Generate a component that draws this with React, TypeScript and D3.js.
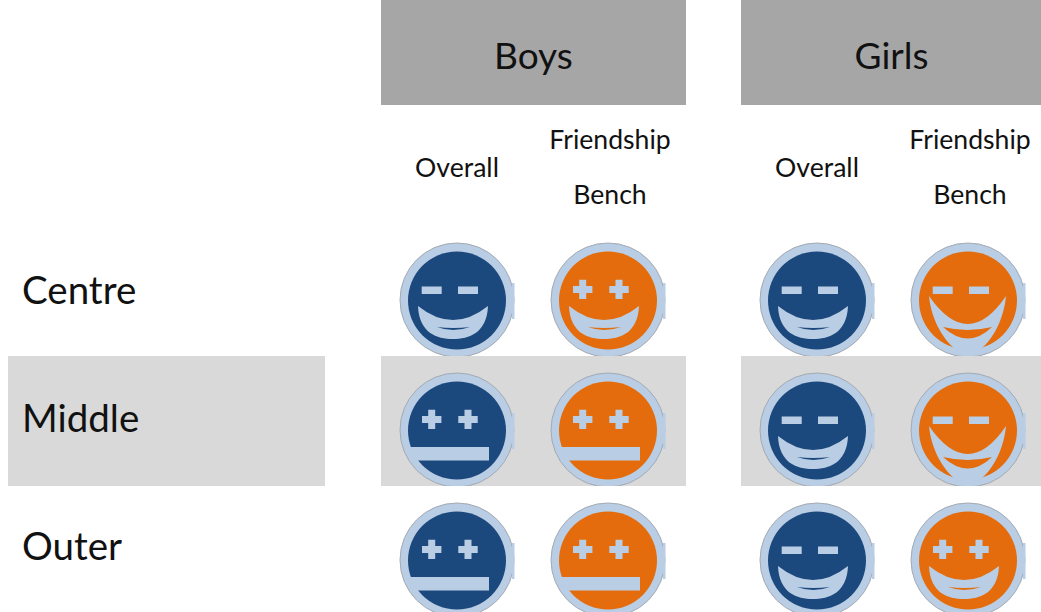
import React from 'react';
import * as d3 from 'd3';

const groups = ['Boys', 'Girls'];
const measures = ['Overall', 'Friendship Bench'];
const rows = ['Centre', 'Middle', 'Outer'];

// one entry per row, columns: boys overall, boys bench, girls overall, girls bench
const eyes = [
  ['minus', 'plus', 'minus', 'minus'],
  ['plus', 'plus', 'minus', 'minus'],
  ['plus', 'plus', 'minus', 'plus'],
];
const mouths = [
  ['smile', 'smile', 'smile', 'grin'],
  ['flat', 'flat', 'smile', 'grin'],
  ['flat', 'flat', 'smile', 'smile'],
];

const W = 1041;
const H = 612;
const FONT = 'Lato, Carlito, Calibri, sans-serif';
const NAVY = '#1f497d';
const ORANGE = '#e46c0a';
const PALE = '#b9cde5';

const groupX = d3.scaleBand().domain(groups).range([381, 1046]).paddingInner(55 / 360).paddingOuter(0);
const measureX = d3.scalePoint().domain(measures).range([76, 227]);
const rowY = d3.scaleBand().domain(rows).range([226, 616]);
const labelY = d3.scalePoint().domain(rows).range([304, 560]);

function Eyes({ kind }: { kind: string }) {
  const px = [-25.3, 11];
  return (
    <g fill={PALE}>
      {px.map((x) =>
        kind === 'minus' ? (
          <rect key={x} x={x - 10} y={-13.5} width={20} height={7.5} />
        ) : (
          <path
            key={x}
            transform={`translate(${x},-10.6)`}
            d="M-3.5-9.7H3.5V-3.5H9.7V3.5H3.5V9.7H-3.5V3.5H-9.7V-3.5H-3.5Z"
          />
        )
      )}
    </g>
  );
}

function Mouth({ kind, fill }: { kind: string; fill: string }) {
  if (kind === 'flat') return <rect x={-47} y={17} width={79} height={13.5} fill={PALE} />;
  if (kind === 'grin') {
    return (
      <g>
        <path
          d="M-39-4C-37 18-26 38-13 49Q0 54 13 49C26 38 36 18 38-4Q0 52-39-4Z"
          fill={PALE}
        />
        <path d="M-25 27Q0 33 24 27Q0 50-25 27Z" fill={fill} />
      </g>
    );
  }
  return (
    <g>
      <path d="M-39 6C-38 33-20 39-4 39C12 39 30 33 31 6Q-4 34-39 6Z" fill={PALE} />
      <path d="M-20 27Q-4 29 13 27Q-4 33-20 27Z" fill={fill} />
    </g>
  );
}

function Face({ eye, mouth, fill }: { eye: string; mouth: string; fill: string }) {
  return (
    <g>
      <circle r={57} fill={PALE} stroke="#a3a9b0" strokeWidth={1} />
      <rect x={55} y={-17} width={2.5} height={36} fill={PALE} />
      <circle cy={0.5} r={49} fill={fill} />
      <Eyes kind={eye} />
      <Mouth kind={mouth} fill={fill} />
    </g>
  );
}

export default function App() {
  const band = rowY.bandwidth();
  const middleY = rowY('Middle') as number;

  return (
    <svg
      width={W}
      height={H}
      viewBox={`0 0 ${W} ${H}`}
      style={{ position: 'absolute', left: 0, top: 0, display: 'block', background: '#fff' }}
      fontFamily={FONT}
    >
      <defs>
        {rows.map((r) => (
          <clipPath id={`clip-${r}`} key={r}>
            <rect x={0} y={rowY(r)} width={W} height={band} />
          </clipPath>
        ))}
        <filter id="soft" x="-10%" y="-10%" width="120%" height="120%">
          <feGaussianBlur stdDeviation="0.5" />
        </filter>
      </defs>

      {/* shaded middle row */}
      <rect x={8} y={middleY} width={317} height={band} fill="#d9d9d9" />
      {groups.map((g) => (
        <rect key={g} x={groupX(g)} y={middleY} width={groupX.bandwidth()} height={band} fill="#d9d9d9" />
      ))}

      {/* group headers */}
      {groups.map((g) => (
        <g key={g} transform={`translate(${groupX(g)},0)`}>
          <rect width={groupX.bandwidth()} height={105} fill="#a6a6a6" />
          <text x={groupX.bandwidth() / 2 - (g === 'Girls' ? 2 : 0)} y={69} textAnchor="middle" fontSize={37} fill="#111">
            {g}
          </text>
          {measures.map((m) => {
            const words = m.split(' ');
            const x = measureX(m) as number;
            return words.length === 1 ? (
              <text key={m} x={x} y={177} textAnchor="middle" fontSize={26.6} fill="#111">
                {m}
              </text>
            ) : (
              <text key={m} textAnchor="middle" fontSize={26.6} fill="#111">
                <tspan x={x + 2} y={149}>{words[0]}</tspan>
                <tspan x={x + 2} y={204}>{words[1]}</tspan>
              </text>
            );
          })}
        </g>
      ))}

      {/* row labels */}
      {rows.map((r) => (
        <text key={r} x={22} y={labelY(r)} fontSize={38.5} fill="#111">
          {r}
        </text>
      ))}

      {/* faces */}
      {rows.map((r, ri) => (
        <g key={r} clipPath={`url(#clip-${r})`}>
          {groups.map((g, gi) =>
            measures.map((m, mi) => {
              const col = gi * 2 + mi;
              const cx = (groupX(g) as number) + (measureX(m) as number);
              const cy = (rowY(r) as number) + band - 56;
              return (
                <g key={m} transform={`translate(${cx},${cy})`} filter="url(#soft)">
                  <Face eye={eyes[ri][col]} mouth={mouths[ri][col]} fill={mi === 0 ? NAVY : ORANGE} />
                </g>
              );
            })
          )}
        </g>
      ))}
    </svg>
  );
}
